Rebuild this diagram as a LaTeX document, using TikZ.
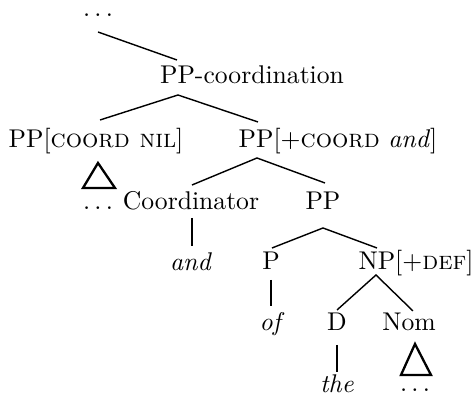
\documentclass[tikz,border=0pt]{standalone}
\usepackage{amsmath}
\usepackage{tikz}
\tikzset{
    tree-label/.style = {anchor=base, inner sep=0pt},
    tree-edge/.style = {draw, line width=0.55pt},
    tree-stem/.style = {draw, line width=0.9pt},
    tree-roof/.style = {draw, line width=0.9pt, line join=miter},
}

\begin{document}
\begin{tikzpicture}[x=0.39pt, y=-0.39pt]
\useasboundingbox (0,0) rectangle (476,396);
% labels
\node[tree-label] (top-dots) at (98,17) {$\ldots$};
\node[tree-label] (pp-coord) at (252,84) {PP-coordination};
\node[tree-label] (pp-nil) at (96,148) {PP[\textsc{coord nil}]};
\node[tree-label] (pp-and) at (338,148) {PP[+\textsc{coord} \textit{and}]};
\node[tree-label] (nil-dots) at (98,210) {$\ldots$};
\node[tree-label] (coordinator) at (191,210) {Coordinator};
\node[tree-label] (pp) at (323,210) {PP};
\node[tree-label] (and) at (191,271) {\textit{and}};
\node[tree-label] (p) at (271,270) {P};
\node[tree-label] (np) at (416,270) {NP[+\textsc{def}]};
\node[tree-label] (of) at (272,331) {\textit{of}};
\node[tree-label] (d) at (337,331) {D};
\node[tree-label] (nom) at (409,331) {Nom};
\node[tree-label] (the) at (337,393) {\textit{the}};
\node[tree-label] (nom-dots) at (415,392) {$\ldots$};
% attachment points
\coordinate (top-dots-s) at (98,32);
\coordinate (pp-coord-n) at (177,60);
\coordinate (pp-coord-s) at (178,95);
\coordinate (pp-nil-n) at (100,120);
\coordinate (pp-and-n) at (258,122);
\coordinate (pp-and-s) at (257,158);
\coordinate (coordinator-n) at (192,185);
\coordinate (pp-n) at (325,183);
\coordinate (coordinator-s) at (192,218);
\coordinate (and-n) at (192,246);
\coordinate (pp-s) at (323,228);
\coordinate (p-n) at (272,248);
\coordinate (np-n) at (377,248);
\coordinate (p-s) at (271,280);
\coordinate (of-n) at (271,306);
\coordinate (np-s) at (376,275);
\coordinate (d-n) at (337,310);
\coordinate (nom-n) at (413,311);
\coordinate (d-s) at (337,345);
\coordinate (the-n) at (337,372);
% edges
\draw[tree-edge] (top-dots-s) -- (pp-coord-n);
\draw[tree-edge] (pp-nil-n) -- (pp-coord-s) -- (pp-and-n);
\draw[tree-edge] (coordinator-n) -- (pp-and-s) -- (pp-n);
\draw[tree-stem] (coordinator-s) -- (and-n);
\draw[tree-edge] (p-n) -- (pp-s) -- (np-n);
\draw[tree-stem] (p-s) -- (of-n);
\draw[tree-edge] (d-n) -- (np-s) -- (nom-n);
\draw[tree-stem] (d-s) -- (the-n);
% roofs
\draw[tree-roof] (98,163) -- (83,188) -- (115,188) -- cycle;
\draw[tree-roof] (415,344) -- (401,375) -- (431,375) -- cycle;
\end{tikzpicture}
\end{document}
